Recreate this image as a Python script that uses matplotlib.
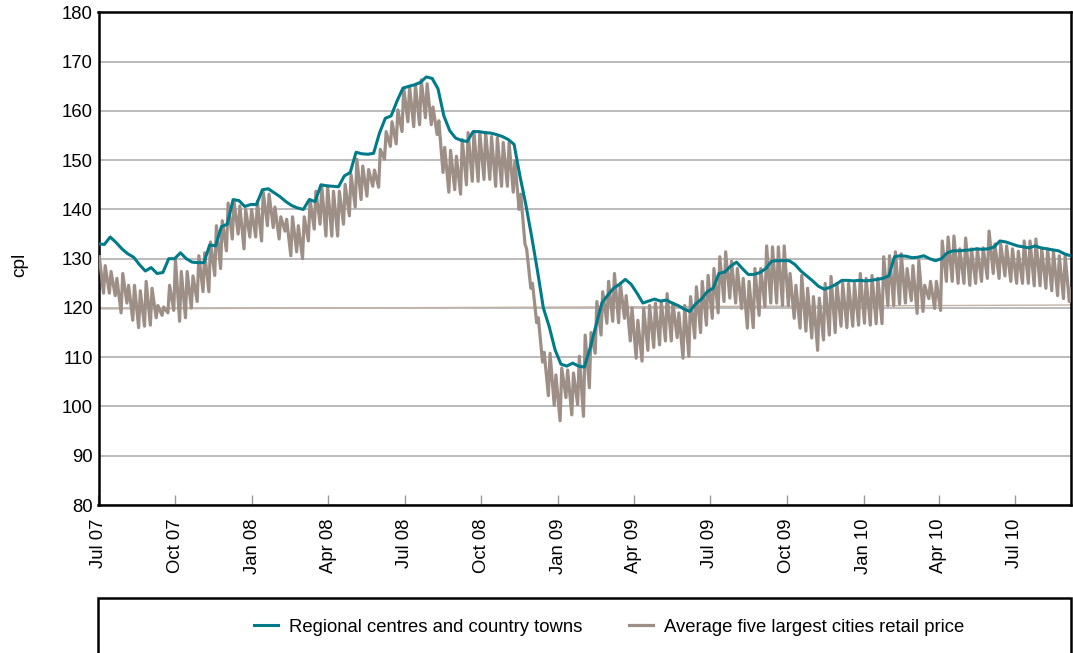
import numpy as np
import pandas as pd
import matplotlib
matplotlib.use("Agg")
import matplotlib.pyplot as plt
from matplotlib.patches import Rectangle

plt.rcParams['font.family'] = ['Liberation Sans', 'DejaVu Sans']

# weekly readings, first week starting 1 Jul 2007
start = '2007-07-01'

regional = [
    133.0, 132.9, 134.4, 133.3, 132.0, 131.0, 130.3, 128.8, 127.5, 128.2,
    127.0, 127.2, 130.0, 130.0, 131.2, 130.0, 129.3, 129.2, 129.2, 132.8,
    132.6, 136.5, 137.0, 142.0, 141.8, 140.6, 141.0, 141.0, 144.0, 144.2,
    143.4, 142.6, 141.6, 140.8, 140.3, 140.0, 142.0, 141.6, 145.0, 144.8,
    144.7, 144.6, 146.8, 147.5, 151.6, 151.3, 151.2, 151.4, 155.5, 158.5,
    159.0, 162.0, 164.6, 165.0, 165.3, 165.8, 166.9, 166.6, 164.5, 159.0,
    156.0, 154.5, 154.0, 153.8, 155.8, 155.8, 155.6, 155.5, 155.2, 154.8,
    154.2, 153.2, 146.8, 141.0, 134.5, 127.5, 120.0, 116.2, 111.5, 108.6,
    108.2, 108.8, 108.2, 108.0, 111.9, 116.5, 121.0, 122.6, 124.0, 124.8,
    125.8, 124.8, 123.0, 121.0, 121.4, 121.8, 121.4, 121.6, 121.0, 120.5,
    119.8, 119.3, 120.8, 121.8, 123.3, 124.0, 127.0, 127.3, 128.5, 129.3,
    128.0, 126.8, 126.8, 127.2, 128.0, 129.5, 129.6, 129.6, 129.6, 128.8,
    127.5, 126.5, 125.5, 124.4, 123.8, 124.2, 124.8, 125.6, 125.6, 125.5,
    125.6, 125.5, 125.6, 125.8, 126.0, 126.5, 130.4, 130.6, 130.5, 130.2,
    130.3, 130.6, 130.0, 129.6, 130.0, 131.2, 131.6, 131.6, 131.7, 131.8,
    132.0, 131.9, 132.0, 132.4, 133.6, 133.4, 133.0, 132.6, 132.4, 132.2,
    132.6, 132.2, 132.0, 131.8, 131.6, 131.0, 130.6,
]

# five largest cities: weekly cycle high and low
city_high = [
    130.4, 128.6, 127.4, 126.0, 127.0, 124.6, 124.6, 123.5, 125.4, 124.0,
    120.5, 120.2, 124.6, 130.0, 127.4, 127.4, 126.5, 130.6, 131.2, 133.4,
    136.7, 137.7, 141.3, 141.7, 140.7, 140.0, 140.0, 141.7, 143.5, 143.1,
    140.5, 138.5, 138.0, 138.5, 136.7, 138.5, 142.0, 143.7, 144.7, 144.7,
    143.7, 143.7, 145.1, 147.1, 150.2, 148.8, 148.1, 148.0, 152.2, 155.8,
    157.8, 160.2, 164.7, 164.9, 165.3, 166.3, 165.5, 160.8, 158.0, 152.6,
    152.0, 150.8, 154.2, 155.6, 155.8, 155.6, 155.6, 154.8, 154.6, 153.6,
    153.6, 149.8, 143.1, 132.0, 125.0, 118.0, 111.0, 110.8, 106.4, 107.8,
    107.4, 106.8, 110.2, 114.5, 115.0, 121.3, 123.3, 125.4, 127.0, 125.0,
    122.5, 120.0, 117.5, 119.9, 120.5, 121.0, 121.3, 122.9, 121.0, 119.0,
    120.5, 122.3, 124.3, 125.4, 126.6, 128.0, 130.4, 131.4, 129.5, 128.0,
    126.0, 125.4, 128.0, 128.0, 132.6, 132.4, 132.4, 132.6, 127.0, 124.6,
    126.6, 124.0, 122.3, 122.0, 125.0, 126.4, 125.0, 125.0, 125.0, 125.0,
    127.0, 126.0, 126.6, 126.0, 130.4, 130.6, 131.4, 131.0, 128.0, 128.6,
    129.6, 124.6, 125.4, 125.4, 133.6, 134.4, 134.6, 132.0, 134.2, 132.0,
    132.0, 132.2, 135.6, 133.0, 133.0, 132.6, 132.0, 131.5, 133.6, 133.6,
    134.0, 132.0, 132.0, 131.5, 130.6, 130.6, 124.0,
]
city_low = [
    123.0, 123.0, 122.5, 119.0, 121.0, 117.5, 116.0, 116.3, 116.5, 118.0,
    118.5, 119.0, 119.5, 117.3, 118.0, 120.0, 121.3, 123.3, 123.3, 126.6,
    128.0, 131.6, 134.0, 135.0, 132.0, 134.4, 134.4, 133.6, 136.7, 136.3,
    134.0, 135.6, 130.6, 131.4, 130.0, 133.6, 136.0, 137.0, 134.6, 134.6,
    134.6, 137.0, 138.7, 140.5, 142.0, 142.7, 144.7, 144.5, 150.2, 152.8,
    153.3, 155.8, 157.8, 156.8, 157.2, 158.6, 157.2, 155.2, 147.5, 143.5,
    144.0, 143.1, 145.0, 145.7, 145.7, 146.1, 146.1, 144.7, 144.7, 144.7,
    143.5, 140.0, 133.0, 124.0, 117.0, 109.0, 102.2, 100.2, 97.1, 101.8,
    98.3, 100.4, 98.0, 103.8, 110.8, 114.5, 116.9, 117.3, 117.0, 117.9,
    113.3, 109.8, 109.2, 111.4, 112.0, 112.5, 113.3, 113.3, 114.0, 109.8,
    110.2, 113.9, 115.0, 116.5, 117.9, 119.0, 121.3, 122.0, 121.0, 119.9,
    115.9, 116.0, 118.5, 120.3, 121.0, 121.0, 120.5, 120.5, 117.9, 115.9,
    115.3, 113.9, 111.4, 113.5, 114.5, 115.0, 116.3, 116.0, 116.3, 116.5,
    116.9, 116.5, 116.8, 116.8, 120.5, 120.5, 120.8, 121.0, 121.5, 118.9,
    119.3, 121.9, 119.9, 119.5, 125.4, 125.4, 125.0, 125.0, 124.6, 125.0,
    125.4, 126.0, 127.0, 126.0, 126.5, 125.4, 125.0, 125.0, 125.0, 124.5,
    124.5, 124.0, 123.5, 122.5, 121.9, 121.3, 121.0,
]

# faint straight line across the chart near 120
trend_ends = [119.8, 120.6]

tick_dates = pd.date_range('2007-07-01', '2010-07-01', freq='3MS')
tick_labels = [d.strftime('%b %y') for d in tick_dates]

teal = '#007b8a'
taupe = '#9d8e86'
fs = 13.3

weeks = pd.date_range(start, periods=len(regional), freq='7D')
city_x = np.column_stack([weeks + pd.Timedelta(days=1),
                          weeks + pd.Timedelta(days=6)]).ravel()
city_y = np.column_stack([city_high, city_low]).ravel()

fig = plt.figure(figsize=(10.73, 6.53), dpi=100)
ax = fig.add_axes([98.5 / 1073, 1 - 505 / 653, (1071 - 98.5) / 1073, (505 - 12.4) / 653])

ax.grid(axis='y', color='#a8a8a8', linewidth=1.1)
ax.set_axisbelow(True)

x0 = pd.Timestamp('2007-07-01')
x1 = pd.Timestamp('2010-09-06')
ax.plot([x0, x1], trend_ends, color='#c4b2a5', linewidth=1.0, zorder=2)
city_line, = ax.plot(city_x, city_y, color=taupe, linewidth=2.3, zorder=3)
reg_line, = ax.plot(weeks, regional, color=teal, linewidth=2.2, zorder=4)

ax.set_xlim(x0, x1)
ax.set_ylim(80, 180)
ax.set_yticks(range(80, 181, 10))
ax.set_xticks(tick_dates)
ax.set_xticklabels(tick_labels, rotation=90, ha='center', va='top')
ax.tick_params(axis='y', length=0, pad=4, labelsize=fs)
ax.tick_params(axis='x', direction='in', length=7, width=1, color='#9a9a9a',
               pad=10, labelsize=fs)
for s in ax.spines.values():
    s.set_linewidth(1.8)
    s.set_color('black')

fig.text(20 / 1073, 1 - 265 / 653, 'cpl', rotation=90, ha='center', va='center',
         fontsize=fs + 0.5)

fig.add_artist(Rectangle((98 / 1073, -0.2), (1071 - 98) / 1073, 0.2 + 1 - 598 / 653,
                         transform=fig.transFigure, fill=False,
                         edgecolor='black', linewidth=1.8))
fig.legend([reg_line, city_line],
           ['Regional centres and country towns',
            'Average five largest cities retail price'],
           loc='center', bbox_to_anchor=(609 / 1073, 1 - 627 / 653),
           ncol=2, frameon=False, fontsize=fs, handlelength=1.3,
           handletextpad=0.6, columnspacing=2.5)

fig.savefig('out.png', dpi=100)
